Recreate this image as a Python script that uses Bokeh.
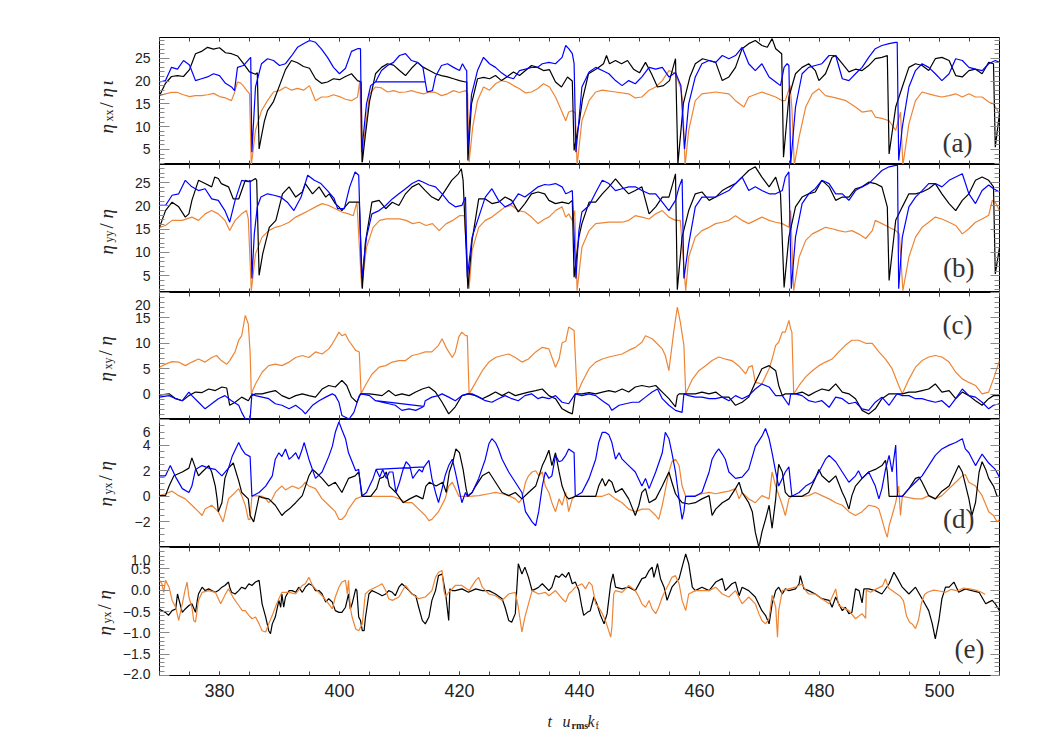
import math
from bokeh.plotting import figure
from bokeh.layouts import column, row
from bokeh.models import (Range1d, LinearAxis, SingleIntervalTicker,
                          CustomJSTickFormatter, Label)
from bokeh.embed import file_html
from bokeh.resources import INLINE

# ---------------- data: flat (t, value) pairs ----------------
a_black = [370,16.8, 371,19.5, 372,21.0, 373,21.2, 374,21.0, 375,22.5, 376,26.0, 377,26.5, 378,27.4, 379,27.0,
    380,27.3, 381,26.2, 382,26.0, 383,25.5, 384,23.8, 385,22.0, 386,21.5, 386.3,21.8, 386.6,5.1, 387,8.0,
    387.5,11.3, 388,13.5, 389,15.5, 390,19.0, 391,22.5, 392,24.5, 393,24.0, 394,23.2, 395,22.8, 396,20.5,
    397,19.5, 398,19.8, 399,20.5, 400,20.3, 401,21.0, 402,21.6, 403,20.1, 403.6,19.8, 403.8,2.2, 404.3,8.0,
    405,15.5, 406,21.6, 407,23.0, 408,23.8, 409,23.5, 410,22.3, 411,21.2, 412,22.8, 413,24.1, 414,23.0,
    415,22.3, 416,21.6, 417,21.2, 418,20.9, 419,20.5, 420,20.1, 421,19.8, 421.2,19.8, 421.4,2.6, 422,15.0,
    423,20.5, 424,20.8, 425,20.5, 426,21.2, 427,20.1, 428,21.0, 429,22.0, 430,21.2, 431,22.3, 432,23.4,
    433,23.0, 434,22.3, 435,22.5, 436,19.8, 437,18.7, 438,20.9, 438.8,20.0, 439.1,4.8, 440,11.3, 440.5,16.0,
    441.5,21.6, 443,22.8, 444,23.8, 444.5,25.6, 445,23.8, 446,24.5, 447,23.8, 448,24.5, 449,22.6, 450,21.8,
    451,24.1, 452,21.6, 453,18.7, 454,19.0, 455,20.1, 456,24.9, 456.4,1.8, 457.3,15.0, 458.4,20.9, 459.3,23.8,
    460.5,24.9, 461.6,24.5, 462.7,24.1, 463.8,20.1, 464.9,20.9, 466,23.0, 467.1,27.1, 468.2,28.2, 469.3,28.9,
    470.4,27.8, 471.3,27.4, 472.1,29.3, 472.7,27.1, 473.7,26.0, 474,3.3, 474.9,16.5, 476,21.6, 477.1,23.0,
    478.2,23.8, 479.3,22.3, 479.9,20.1, 481,21.6, 482.1,25.2, 482.7,25.6, 483.8,23.8, 484.9,22.0, 486,22.6,
    487.1,22.3, 488.2,23.4, 489.3,24.9, 490.4,25.2, 491.3,25.6, 491.6,4.0, 492.7,14.3, 493.8,18.7, 494.9,23.0,
    496,23.8, 497.1,23.4, 498.2,22.3, 499.3,24.9, 500.4,25.2, 501.6,24.5, 502.7,21.2, 503.8,20.9, 504.9,22.3,
    506,22.6, 507.1,21.6, 508.2,24.1, 509,23.8, 509.3,5.5, 510,13.0]

a_blue = [370,19.8, 371,20.1, 372,23.0, 373,22.6, 374,24.5, 375,23.5, 376,20.1, 377,20.5, 378,20.9, 379,21.6,
    380,21.2, 381,19.5, 382,18.7, 382.5,17.9, 383,23.0, 384,23.4, 385,24.9, 385.2,25.2, 385.4,4.4, 386,18.7,
    387,23.8, 388,24.9, 389,24.5, 390,23.4, 391,23.8, 392,25.5, 393,27.4, 394,28.2, 395,28.9, 396,28.5,
    397,27.0, 398,25.2, 399,23.0, 400,21.6, 401,22.8, 402,26.5, 403,27.1, 403.5,27.1, 403.7,4.4, 404.5,15.0,
    405.2,19.0, 406,19.8, 414.3,19.8, 406,19.8, 407,22.3, 408,23.4, 409,24.1, 410,25.6, 411,26.0, 412,24.5,
    413,24.1, 413.9,23.0, 414.3,19.8, 414.6,17.6, 415.5,17.9, 416,21.0, 417,23.4, 418,23.8, 419,23.0,
    420,22.3, 420.5,23.8, 421,22.6, 421.2,22.3, 421.35,4.8, 422,17.0, 423,22.3, 424,25.2, 424.5,24.5,
    425,23.8, 426,23.0, 427,21.8, 428,20.9, 429,20.5, 430,22.3, 431,22.6, 432,23.0, 433,23.0, 433.8,23.8,
    434.9,24.1, 436,23.8, 437.1,25.2, 437.7,27.8, 438.2,27.1, 438.8,26.0, 439.1,23.8, 439.4,4.4, 439.9,11.3,
    440.4,18.7, 441.6,22.0, 442.7,23.0, 443.8,22.3, 444.9,21.6, 446,20.1, 447.1,19.0, 448.2,20.1, 449.3,19.4,
    450.4,20.9, 451.6,23.0, 452.7,22.6, 453.8,23.0, 454.9,20.9, 456,21.9, 456.9,19.0, 457.5,5.1, 458.2,15.0,
    459.3,20.9, 460.4,23.8, 461.6,24.5, 462.7,24.1, 463.8,25.6, 464.9,24.9, 466,25.6, 467.1,27.4, 468.2,23.8,
    469.3,22.3, 470.4,23.8, 471.6,20.9, 472.7,19.8, 473.5,19.0, 474.1,23.0, 474.6,23.8, 474.9,23.4, 475.2,1.8,
    476,14.3, 477.1,21.6, 478.2,23.0, 479.3,23.4, 480.4,23.8, 481.6,25.6, 482.7,25.6, 483.8,20.5, 484.9,20.1,
    486,21.6, 487.1,23.0, 488.2,25.2, 489.3,27.1, 490.4,27.8, 491.6,28.2, 492.7,28.5, 492.95,28.5, 493.2,2.6,
    493.8,9.9, 494.9,18.7, 496,22.3, 497.1,23.8, 498.2,23.0, 499.3,21.6, 500.4,20.1, 501.6,21.6, 502.7,24.9,
    503.8,24.5, 504.9,23.0, 506,22.6, 507.1,22.3, 508.2,23.8, 509.3,24.5, 510,24.1]

a_orange = [370,16.8, 371,17.2, 372,17.5, 373,17.5, 374,17.0, 375,16.6, 376,16.8, 377,16.8, 378,17.0, 379,17.3,
    380,16.6, 381,16.3, 382,15.7, 382.5,17.5, 383,19.8, 383.5,19.6, 384,18.9, 384.5,18.0, 385,17.2, 385.3,1.5,
    386,9.2, 387,13.5, 388,15.7, 389,17.6, 390,17.9, 391,18.7, 392,18.0, 393,18.4, 394,18.0, 395,19.0,
    396,15.7, 397,16.5, 398,16.5, 399,17.0, 400,16.6, 401,16.0, 402,15.7, 403,16.5, 403.4,20.1, 403.7,2.2,
    404.2,8.4, 405,17.2, 406,18.7, 407,18.5, 408,17.6, 409,17.9, 410,17.5, 411,17.6, 412,17.9, 413,17.5,
    414,17.2, 415,17.6, 416,17.5, 417,16.8, 418,17.2, 419,17.9, 420,17.5, 421,17.9, 421.35,17.2, 421.6,2.2,
    422.2,9.9, 423,15.7, 424,18.7, 425,18.0, 426,19.4, 427,20.1, 428,19.8, 429,19.0, 430,18.3, 431,17.4,
    432,17.6, 433,18.3, 434,19.4, 435,18.7, 436,16.5, 437,13.5, 437.7,11.3, 438.2,13.2, 438.8,13.5, 439.3,13.0,
    439.6,1.5, 440.4,11.3, 441.6,15.7, 442.7,17.6, 443.8,18.0, 446,17.6, 448.2,17.2, 449.3,16.3, 450.4,16.5,
    451.6,18.0, 452.7,18.7, 453.8,20.1, 454.9,22.3, 456,21.6, 456.8,18.7, 457.2,15.7, 457.6,1.5, 458.2,9.2,
    459.3,15.7, 460.4,17.2, 462.7,17.6, 464.9,17.2, 466,15.7, 467.4,14.3, 468.2,16.5, 470.4,17.6, 472.7,16.5,
    473.8,15.7, 474.3,15.7, 475.1,19.0, 475.4,14.0, 475.8,1.5, 476.6,7.7, 477.7,14.3, 478.8,17.2, 479.9,18.3,
    481,16.8, 482.7,16.3, 484.4,15.7, 486,14.3, 487.1,13.2, 488.7,13.5, 489.3,12.1, 490.4,11.8, 491.6,11.3,
    492.7,9.2, 493.5,13.2, 493.9,1.5, 494.9,10.6, 496,15.7, 497.1,17.6, 498.2,17.2, 499.3,16.8, 500.4,16.5,
    501.6,16.8, 502.7,17.2, 503.8,16.5, 504.9,17.2, 506,16.5, 507.1,16.5, 508.2,15.4, 509,15.0, 510,12.8]

b_black = [370,15.4, 371,19.0, 372.1,20.8, 373.2,19.8, 374.3,17.6, 374.9,18.3, 375.4,21.2, 376.5,25.5, 377.6,24.8,
    378.7,24.1, 379.2,26.2, 379.8,25.9, 380.3,24.8, 381.5,24.1, 382.3,21.5, 383.2,21.5, 384.3,25.5, 385.1,25.2,
    386,25.9, 386.2,25.5, 386.6,5.1, 387.2,9.7, 388.3,15.4, 389.4,16.9, 390.5,22.6, 391.6,24.1, 392.7,21.9,
    393.8,23.0, 394.3,24.8, 395.5,22.6, 396.6,24.1, 397.7,21.9, 398.3,22.6, 399.3,20.5, 399.9,19.8, 400.4,19.0,
    401.6,20.8, 402.7,20.8, 403.3,20.8, 403.8,2.2, 404.3,12.0, 405.4,20.8, 406.6,21.2, 407.7,19.4, 408.8,20.8,
    409.9,20.1, 411,22.6, 412.1,24.1, 413.2,24.8, 414.3,23.3, 415.4,21.9, 416.5,21.2, 417.6,23.3, 418.7,25.5,
    419.8,26.9, 420.3,28.0, 420.6,25.5, 421.4,2.2, 422.1,12.6, 423.2,21.5, 424.3,21.5, 425.4,20.5, 426.5,20.8,
    427.6,21.9, 428.7,21.2, 429.8,18.7, 430.9,20.5, 432,22.6, 433.1,23.0, 434.2,22.6, 434.9,21.2, 436,20.5,
    437.1,20.8, 438.2,20.5, 438.8,21.2, 439.1,4.7, 439.9,13.3, 440.4,16.2, 441.6,20.8, 442.7,20.8, 443.8,22.6,
    444.9,24.1, 446,25.8, 447.1,24.1, 448.2,22.6, 449.3,23.3, 450.4,24.1, 451.6,18.3, 452.7,19.8, 453.8,21.9,
    454.9,21.9, 455.7,25.5, 456,26.9, 456.3,2.0, 457.1,13.3, 458.2,19.0, 459.3,22.6, 460.4,23.0, 461.6,21.2,
    462.7,21.9, 463.8,23.3, 464.9,24.1, 466,24.8, 467.1,26.2, 468.2,27.6, 469.3,28.4, 470.4,26.2, 471.6,24.1,
    472.7,26.2, 473.5,22.6, 474.1,2.5, 474.9,13.3, 476,19.8, 477.1,21.9, 478.2,22.6, 479.3,23.0, 480.4,25.5,
    481.6,24.1, 482.7,21.2, 483.8,21.9, 484.9,21.9, 486,23.7, 487.1,24.1, 488.2,25.1, 489.3,24.8, 490.4,24.1,
    491.3,19.8, 491.6,4.0, 492.7,16.9, 493.8,19.8, 494.9,22.6, 496,22.6, 497.1,23.0, 498.2,23.7, 499.3,24.8,
    500.4,22.6, 501.6,20.5, 502.7,19.0, 503.8,21.2, 504.9,22.6, 506,25.5, 507.1,26.2, 508.2,25.5, 509,24.1,
    509.3,5.4, 510,11.1]

b_blue = [370,20.1, 371,20.1, 372.1,22.3, 373.2,22.6, 374.3,25.5, 375.4,24.1, 376.5,23.3, 377.6,23.7, 378.7,21.5,
    379.8,21.2, 380.9,19.0, 381.7,16.5, 382.6,21.2, 383.7,25.5, 384.8,25.2, 385.1,25.5, 385.4,4.4, 385.8,14.0,
    386.3,19.8, 386.9,21.9, 388,22.6, 389.1,22.3, 390.2,21.9, 391.3,20.8, 392.4,19.0, 393.6,21.9, 394.7,26.6,
    395.8,25.5, 396.9,24.8, 398,23.3, 399.1,21.6, 399.7,19.4, 400.8,19.4, 401.7,24.1, 402.6,27.3, 403.2,26.6,
    403.7,4.4, 404.5,13.3, 405.4,18.3, 406.6,19.0, 407.7,20.1, 408.8,21.5, 409.9,22.6, 411,23.7, 412.1,24.8,
    413.2,25.5, 413.8,25.2, 414.9,24.5, 416,24.1, 417.1,22.6, 418.2,20.8, 419.3,19.8, 420.4,20.1, 421,21.9,
    421.3,4.7, 422.1,13.3, 423.2,17.6, 424.3,21.9, 425.4,23.7, 426.5,21.2, 427.6,19.8, 428.7,20.5, 429.8,22.6,
    430.9,21.9, 432,23.0, 433.1,24.1, 434.2,24.6, 434.9,24.5, 436,24.8, 437.1,24.1, 437.7,22.6, 438.2,22.9,
    438.8,23.3, 439.4,4.4, 439.9,14.7, 440.4,18.7, 441.6,20.1, 442.7,22.9, 443.8,25.5, 444.9,24.8, 446,23.3,
    447.1,23.7, 448.2,24.1, 449.3,24.1, 450.4,23.3, 451.6,22.6, 452.7,22.6, 453.8,20.8, 454.9,19.0, 456,21.2,
    456.6,24.1, 457.1,25.8, 457.4,4.4, 458.2,11.8, 459.3,19.8, 460.4,21.9, 462.7,21.9, 463.8,22.6, 464.9,23.3,
    466,24.8, 467.1,26.2, 468.2,23.3, 469.3,24.1, 470.4,23.3, 471.6,22.6, 472.7,22.6, 473.8,23.3, 474.3,26.2,
    474.9,27.3, 475.3,2.2, 476,13.3, 477.1,20.5, 478.2,22.6, 479.3,23.7, 480.4,25.5, 481.6,24.8, 482.7,22.6,
    483.8,22.6, 484.9,21.2, 486,23.3, 487.1,24.1, 488.2,24.8, 489.3,26.2, 490.4,27.6, 491.6,28.4, 492.7,28.7,
    493.0,28.7, 493.2,2.2, 493.8,13.3, 494.9,19.8, 496,21.9, 497.1,23.3, 498.2,24.8, 499.3,24.8, 500.4,24.1,
    501.6,25.5, 502.7,26.2, 503.8,26.9, 504.9,22.6, 506,20.5, 507.1,23.3, 508.2,24.5, 509,23.7, 510,23.0]

b_orange = [370,15.4, 371,15.8, 372.1,16.9, 373.8,16.9, 375.4,17.6, 376.5,16.9, 377.6,18.3, 378.7,19.0, 379.8,18.3,
    380.9,16.9, 381.7,14.7, 382.6,16.9, 383.7,18.3, 384.5,19.0, 384.8,17.2, 385.3,1.8, 386,9.7, 387.1,13.3,
    388.2,14.7, 389.3,15.4, 390.4,15.8, 391.6,16.5, 392.7,17.6, 393.8,18.3, 394.9,19.0, 396,19.8, 397.1,20.5,
    398.2,20.1, 399.3,19.4, 400.4,18.7, 401.5,18.3, 402.3,17.9, 402.9,20.8, 403.7,2.5, 404.5,11.1, 405.6,15.4,
    406.7,16.9, 407.8,17.2, 410,17.2, 411.1,16.9, 412.2,16.2, 413.3,16.5, 414.4,15.8, 415.5,16.2, 416.6,14.7,
    417.8,16.2, 418.9,16.9, 420,17.9, 420.8,17.9, 421.6,2.2, 422.1,10.4, 423.2,15.4, 424.3,16.9, 425.4,17.6,
    426.5,18.7, 427.6,19.8, 428.7,20.1, 429.8,19.0, 430.9,18.7, 432,17.6, 433.1,16.2, 434.2,17.2, 434.9,17.6,
    436,19.0, 437.1,19.8, 437.7,17.6, 438.2,18.3, 438.8,16.9, 439.2,19.0, 439.6,1.8, 440.4,11.1, 441.6,14.7,
    442.7,16.2, 444.9,16.5, 447.1,16.5, 448.2,16.9, 449.3,17.9, 450.4,17.6, 451.6,17.2, 452.7,18.3, 453.8,19.0,
    454.9,17.6, 456,16.9, 456.8,16.9, 457.7,1.8, 458.2,9.0, 459.3,13.3, 460.4,14.7, 461.6,15.4, 462.7,16.2,
    463.8,16.5, 464.9,16.9, 466,17.9, 467.1,16.9, 468.2,16.2, 469.3,16.9, 470.4,17.6, 471.6,16.9, 472.7,16.5,
    473.8,16.2, 474.9,15.4, 475.2,19.0, 475.7,1.8, 476.6,9.0, 477.7,12.6, 478.8,14.0, 479.9,14.7, 481,15.4,
    482.1,15.1, 483.2,14.7, 484.3,14.4, 485.4,14.7, 486.5,14.0, 487.7,13.0, 488.8,14.7, 489.3,16.9, 490.4,16.2,
    491.6,15.4, 492.7,14.7, 493.3,14.0, 493.9,1.8, 494.9,9.0, 496,13.3, 497.1,15.4, 498.2,16.5, 499.3,17.6,
    500.4,17.2, 501.6,16.5, 502.7,15.8, 503.8,14.0, 504.9,15.1, 506,16.5, 507.1,17.2, 508.2,18.0, 508.8,21.2,
    509.3,20.8, 510,19.0]

c_orange = [370,5.3, 371,5.9, 372.1,6.4, 373.2,6.3, 374.3,5.6, 375.4,6.3, 376.5,6.9, 377.6,6.3, 378.7,7.2, 379.5,7.6,
    380.3,6.6, 381.2,5.9, 381.7,6.6, 382.6,8.3, 383.2,10.6, 383.7,11.5, 384.3,15.5, 384.8,13.8, 385.1,8.3,
    385.3,0.05, 386,2.0, 387.1,4.3, 388.2,5.6, 389.3,5.9, 390.4,5.6, 391.6,6.3, 392.7,7.2, 393.8,7.6, 394.9,7.2,
    396,8.3, 397.1,7.9, 398.2,8.9, 398.8,9.9, 399.3,10.9, 399.9,12.2, 400.4,11.5, 401,11.8, 401.5,10.6,
    402.7,8.6, 403.3,8.3, 403.6,0.05, 404.3,1.7, 405.4,3.9, 406.6,5.3, 407.7,5.6, 408.8,6.3, 409.9,6.6, 411,6.6,
    412.1,7.6, 413.2,7.9, 414.3,8.3, 415.4,8.3, 416.5,9.6, 417.1,10.9, 417.9,8.9, 418.8,7.2, 419.3,8.3,
    419.9,11.3, 420.4,12.2, 421,11.5, 421.3,11.5, 421.6,0.05, 422.7,2.3, 423.8,4.6, 424.9,6.3, 426,7.2,
    427.1,7.6, 428.2,7.9, 429.3,7.2, 430.4,6.3, 431.5,6.9, 432.7,8.3, 433.8,9.2, 434.9,8.9, 436,5.3, 436.6,6.9,
    437.1,10.1, 437.7,10.4, 438.2,13.2, 439.1,12.5, 439.4,5.0, 439.6,0.05, 440.4,2.3, 441.6,5.0, 442.7,6.3,
    443.8,6.9, 444.9,7.3, 446,7.6, 447.1,7.9, 448.2,8.6, 449.3,9.2, 450.4,10.2, 451,11.5, 452.1,10.9,
    452.7,10.2, 453.8,8.9, 454.3,7.6, 454.9,4.6, 455.7,12.2, 456.3,17.1, 456.8,14.2, 457.4,9.6, 457.7,0.05,
    458.8,2.9, 459.9,4.6, 461,5.6, 462.1,6.6, 463.2,7.3, 464.3,6.9, 465.4,6.6, 466.5,5.6, 467.7,4.0, 468.2,5.3,
    468.8,5.6, 469.3,2.3, 470.4,2.0, 471.6,5.0, 472.1,6.9, 472.7,9.6, 473.2,10.2, 473.8,12.2, 474.3,12.2,
    474.9,14.5, 475.2,12.8, 475.4,12.2, 475.7,0.05, 476.6,1.7, 477.7,3.4, 478.8,4.6, 479.9,5.6, 481,6.3,
    482.1,6.9, 483.2,8.3, 484.3,9.6, 485.4,10.6, 486.5,10.6, 487.7,10.0, 488.8,10.0, 489.9,8.3, 491,6.9,
    492.1,5.0, 493.2,1.7, 493.8,0.05, 494.9,2.9, 496,5.3, 497.1,6.6, 498.2,7.3, 499.3,7.6, 500.4,7.3, 501.6,6.3,
    502.7,4.3, 503.8,3.0, 504.9,2.3, 506,1.7, 507.1,0.05, 508.2,0.4, 509,3.0, 510,6.6]

c_black = [370,-0.2, 371.6,0.05, 372.7,-0.9, 373.8,-1.3, 374.9,-0.3, 376,0.4, 377.1,0.3, 378.2,1.0, 379.3,0.7,
    380.4,1.4, 381.2,1.2, 381.7,-2.2, 382.6,-1.6, 383.7,-0.6, 384.8,-1.3, 385.3,-0.3, 386,0.05, 387.1,0.05,
    388.2,0.4, 389.3,0.7, 390.4,-0.3, 391.6,-0.9, 392.7,-0.3, 393.8,0.05, 394.9,-0.3, 396,-0.6, 397.1,1.0,
    398.2,1.7, 399.3,1.4, 400.4,2.7, 401.2,1.7, 402,-0.6, 402.9,-1.6, 403.5,0.05, 405,0.05, 406,-0.1, 407.1,-0.3,
    408.2,0.7, 409.3,-0.3, 410.4,0.05, 411.6,-0.3, 412.7,0.4, 413.8,1.0, 414.9,1.4, 416,0.4, 417.1,-1.6,
    418.2,-3.9, 419.3,-2.5, 420.4,-0.3, 421.5,0.05, 422.7,-0.3, 423.8,-0.9, 424.9,-0.3, 426,0.4, 427.1,-0.3,
    428.2,0.4, 429.3,-0.3, 430.4,0.05, 431.5,0.4, 432.7,0.7, 433.8,1.0, 434.9,-0.3, 436,-0.9, 437.1,-2.9,
    438.2,-3.6, 438.8,-3.9, 439.3,0.05, 440.4,0.05, 441.6,0.3, 442.7,0.05, 443.8,0.4, 444.9,0.7, 446,0.4,
    447.1,1.0, 448.2,0.4, 449.3,1.4, 450.4,1.7, 451.6,1.4, 452.7,1.7, 453.8,0.4, 454.9,-0.9, 456,-2.5,
    456.3,-0.3, 456.6,0.05, 458.2,0.05, 459.3,0.05, 460.4,0.4, 461.6,0.05, 462.7,0.4, 463.8,-0.6, 464.9,-0.6,
    466,-2.2, 467.1,-1.6, 468.2,-0.6, 469.3,2.3, 470.4,5.0, 471.6,5.6, 472.7,4.6, 473.2,1.7, 473.8,-0.3,
    474.3,0.05, 476,0.05, 477.1,0.4, 478.2,-0.3, 479.3,0.4, 480.4,1.0, 481.6,0.7, 482.7,2.0, 483.8,0.4,
    484.9,0.05, 486,-0.9, 487.1,-3.2, 488.2,-3.9, 489.3,-2.9, 490.4,-0.9, 491.6,0.05, 493.8,0.05, 494.9,0.4,
    496,0.4, 497.1,0.7, 498.2,1.0, 499.3,2.0, 500.4,0.4, 501.6,0.7, 502.7,-0.9, 503.8,0.4, 504.9,-0.3, 506,-1.3,
    507.1,-2.2, 508.2,-0.9, 509,-0.3, 510,-0.3]

c_blue = [370,-0.6, 371.6,-0.3, 372.7,-0.9, 373.8,-1.3, 374.9,0.4, 375.4,-0.3, 376.5,-1.6, 377.6,-2.9, 378.7,-1.9,
    379.8,-0.9, 380.9,-0.3, 382,-1.3, 383.2,-2.2, 383.7,-3.6, 384.3,-4.9, 385.1,-4.9, 385.4,0.05, 386,-0.3,
    387.1,-0.6, 388.2,-0.9, 389.3,-1.9, 390.4,-2.2, 391.6,-2.9, 392.7,-2.2, 393.8,-3.2, 394.3,-3.9, 395.5,-2.2,
    396.6,-1.3, 397.7,-0.6, 398.8,0.05, 399.3,-0.3, 399.9,-1.6, 400.4,-4.2, 401.6,-4.9, 402.4,-3.6, 403.3,-0.3,
    403.7,0.05, 405,-0.3, 406,-1.3, 414.06,-2.4, 406,-1.3, 407.1,-1.6, 408.2,-1.9, 409.3,-2.2, 410.4,-3.2,
    411.6,-2.9, 412.7,-3.2, 413.8,-2.6, 414.06,-2.4, 414.3,-1.3, 415.4,-0.6, 416.5,-0.3, 417.1,0.05, 418.2,-0.6,
    419.3,-1.3, 420.4,-0.3, 421.3,0.05, 422.1,0.05, 423.2,-0.6, 424.3,-1.3, 425.4,-1.6, 426.5,-0.9, 427.6,-0.3,
    428.7,-0.9, 429.8,-1.3, 430.9,-0.3, 432,0.05, 433.1,-0.9, 433.8,-0.6, 434.9,-0.9, 436,-0.3, 437.1,-1.6,
    438.2,-1.9, 439.1,-0.3, 439.3,0.05, 440.4,-0.3, 441.6,0.05, 442.7,-0.3, 443.8,-1.3, 444.9,-2.2, 445.4,-3.2,
    446.6,-2.2, 447.7,-1.9, 448.8,-1.6, 449.9,-1.6, 451,-0.6, 452.1,0.4, 453,1.0, 453.8,-0.9, 454.9,-2.2,
    456,-3.2, 457.1,-3.6, 457.4,0.05, 458.2,-0.3, 459.3,-0.6, 460.4,-0.6, 461.6,-0.9, 462.7,-0.9, 463.8,-0.6,
    464.9,-1.3, 466,-0.3, 467.1,-0.9, 468.2,-0.3, 469.3,1.0, 470.4,2.0, 471.6,1.4, 472.7,-0.3, 473.8,-0.3,
    474.9,-2.2, 475.2,0.05, 476,0.05, 477.1,-0.3, 478.2,-1.3, 479.3,-1.6, 480.4,-1.3, 481.6,-2.6, 482.7,-0.6,
    483.8,-0.9, 484.9,-1.9, 486,-1.6, 487.1,-2.9, 488.2,-3.2, 489.3,-1.6, 490.4,-0.6, 491.6,-2.2, 492.7,-0.3,
    493,0.05, 493.8,-0.3, 494.9,-0.3, 496,-0.9, 497.1,-0.9, 498.2,-1.3, 499.3,-1.6, 500.4,-1.3, 501.6,-2.6,
    502.7,-0.9, 503.8,1.0, 504.9,-0.3, 506,-0.6, 507.1,-1.6, 508.2,-2.9, 509,-2.2, 510,-1.9]

d_blue = [370,1.6, 371,1.6, 371.8,2.4, 372.7,1.5, 373.8,0.6, 374.9,0.3, 375.4,0.8, 376,2.1, 377.1,2.4, 378.2,2.2,
    379.3,2.1, 380.4,1.6, 381.5,2.2, 382.1,3.1, 383.2,4.2, 383.7,3.7, 384.3,3.3, 385.1,3.1, 385.4,0.0, 386.6,0.3,
    387.7,0.8, 388.8,1.6, 389.3,2.9, 389.9,3.4, 390.4,3.1, 391,3.7, 391.6,2.9, 392.1,3.1, 392.7,3.4, 393.2,2.9,
    393.8,3.7, 394.1,4.2, 394.9,2.9, 396,1.4, 397.1,1.9, 398.2,3.1, 398.8,3.9, 399.3,5.0, 399.9,5.8, 400.4,5.2,
    401,4.5, 401.5,3.4, 402.1,2.7, 402.7,2.0, 403.2,2.1, 403.7,0.0, 404.5,0.3, 405,0.8, 405.6,1.4, 406.1,2.1,
    414.1,2.3, 406.1,2.1, 406.7,1.5, 407.2,2.1, 407.8,1.4, 408.3,1.9, 408.9,1.9, 409.4,0.3, 410,1.1, 410.6,2.1,
    411.1,2.7, 411.7,2.4, 412.2,1.4, 412.8,1.8, 413.3,2.1, 413.8,1.9, 414.1,2.3, 414.9,2.8, 415.4,1.4, 416,0.3,
    416.5,-0.5, 417.1,0.6, 417.6,1.6, 418.2,2.4, 418.8,2.9, 419.3,1.9, 419.9,0.6, 420.4,-0.5, 421,0.3, 421.3,0.0,
    422.1,0.3, 423.2,1.4, 424.3,2.9, 424.9,4.1, 425.4,4.5, 426,4.2, 426.5,3.7, 427.1,2.9, 428.2,1.9, 429.3,1.1,
    430.4,0.3, 431,-1.2, 432.1,-2.0, 432.7,-2.3, 433.2,-1.2, 433.8,0.8, 434.3,1.9, 434.9,1.4, 435.4,1.6, 436,3.2,
    436.6,2.7, 437.1,2.8, 437.7,3.2, 438.2,3.7, 439.1,3.4, 439.3,0.0, 440.4,0.3, 441.6,1.4, 442.7,2.9, 443.2,4.2,
    443.8,5.0, 444.3,5.0, 444.9,4.8, 445.4,4.2, 446,2.9, 446.6,3.4, 447.1,2.9, 448.2,2.4, 449.3,1.9, 450.4,0.8,
    451,1.4, 451.6,0.6, 452.7,1.9, 453.8,3.4, 454.3,5.0, 454.9,4.5, 455.4,3.4, 456,1.9, 456.6,-0.2, 457.1,-1.8,
    457.4,-1.2, 457.7,0.0, 459.3,0.0, 460.4,0.3, 461.6,1.9, 462.1,2.9, 462.7,3.4, 463.2,3.7, 463.8,3.3, 464.3,2.9,
    464.9,1.9, 466,1.4, 467.1,1.5, 468.2,2.1, 469.3,3.9, 470.4,4.7, 471,5.3, 471.6,4.5, 472.1,3.4, 472.7,1.9,
    473.2,0.8, 473.8,1.4, 474.3,1.9, 474.9,2.3, 475.4,0.0, 476.6,0.3, 477.7,0.8, 478.8,1.1, 479.9,1.9, 481,2.9,
    481.6,3.2, 482.7,2.7, 483.8,1.9, 484.9,1.1, 486,1.6, 486.5,2.0, 487.1,1.4, 488.2,1.9, 489.3,0.8, 489.9,-0.2,
    490.4,0.6, 491,2.1, 491.6,3.2, 492.1,1.9, 492.7,4.0, 493,0.0, 493.8,0.0, 494.9,0.6, 496,1.1, 497.1,1.6,
    498.2,2.4, 499.3,3.2, 500.4,3.7, 501.6,4.0, 502.7,4.2, 503.8,4.5, 504.3,3.7, 504.9,3.4, 506,2.4, 507.1,3.3,
    508.2,2.6, 509.3,2.1, 510,1.5]

d_black = [370,0.05, 371,0.05, 371.6,0.8, 372.4,1.6, 373.8,1.9, 374.9,2.2, 375.4,3.0, 376,2.2, 376.5,1.6, 377.1,1.9,
    378.2,2.4, 378.7,1.9, 379.3,0.8, 379.6,-0.2, 379.8,-1.2, 380.4,-0.5, 380.9,1.4, 381.5,2.2, 382.3,2.6,
    383.2,1.2, 383.7,0.3, 384.8,-0.2, 385.1,-1.5, 385.7,-2.0, 386.6,0.0, 387.1,-0.1, 388.2,-0.2, 389.3,-0.7,
    390.4,-1.5, 391,-1.2, 391.6,-1.0, 392.7,-0.5, 393.8,0.05, 394.9,1.6, 395.5,2.1, 396,1.9, 397.1,1.4,
    398.2,0.8, 399.3,1.1, 400.4,0.3, 401.5,1.4, 402.6,1.6, 403.2,1.9, 403.8,0.0, 405.2,0.0, 406.2,0.6,
    406.7,1.4, 407.3,1.5, 407.8,1.9, 408.3,0.8, 409.4,0.3, 410.6,-0.5, 411.7,-0.2, 412.8,0.05, 413.9,-0.2,
    414.4,0.8, 415,1.1, 416.1,0.8, 417.2,1.1, 417.8,0.3, 418.3,1.9, 418.9,2.7, 419.4,3.7, 420,3.4, 420.6,2.1,
    421.1,0.6, 421.4,0.0, 422.1,0.3, 422.7,0.8, 423.8,1.6, 424.9,1.9, 426,1.1, 427.1,0.3, 428.2,0.05, 429.3,0.3,
    430.4,-0.2, 431.5,0.3, 432.7,0.8, 433.8,2.4, 434.3,2.9, 434.9,3.6, 435.4,2.4, 436,3.4, 436.6,1.9, 437.1,0.8,
    437.7,0.05, 438.2,-0.2, 438.8,-0.1, 439.3,0.0, 442.7,0.0, 443.2,0.8, 443.8,1.4, 444.3,0.8, 444.9,1.3,
    445.4,1.1, 446,0.3, 447.1,0.6, 448.2,-0.2, 449.3,-1.5, 449.9,-0.7, 450.4,0.3, 451,0.6, 451.6,-0.5,
    452.7,-0.2, 453.8,0.8, 454.9,1.9, 455.4,1.1, 456,0.2, 456.6,-0.2, 457.1,-0.5, 458.2,-0.6, 459.3,-0.5,
    460.4,-0.2, 461.6,0.05, 462.1,-1.5, 462.7,-1.0, 463.8,-0.5, 464.9,-0.2, 466,0.6, 466.6,1.1, 467.1,0.3,
    468.2,-0.5, 468.8,-1.2, 469.3,-2.8, 469.9,-4.0, 470.4,-2.8, 471,-1.8, 471.6,-0.7, 472.1,-2.5, 472.7,-0.2,
    473,1.6, 473.2,2.5, 473.8,1.9, 474.3,0.3, 474.9,0.0, 477.1,0.0, 478.2,0.3, 479.3,1.4, 479.9,2.1, 480.4,1.6,
    481.6,1.1, 482.7,1.6, 483.8,0.3, 484.3,-0.2, 484.9,-1.0, 485.4,0.05, 486,0.8, 487.1,1.4, 488.2,1.9,
    489.3,2.1, 490.4,2.4, 491,2.8, 491.3,1.9, 491.6,0.0, 493.8,0.0, 494.9,0.6, 496,1.4, 496.6,1.5, 497.1,1.1,
    498.2,0.05, 499.3,-0.2, 500.4,0.4, 501.6,0.8, 502.7,1.9, 503.2,2.4, 503.8,1.9, 504.9,-0.2, 505.4,-1.5,
    506,-0.5, 506.6,1.9, 507.1,2.7, 507.7,2.1, 508.2,1.4, 509,0.8, 509.6,0.0, 510,0.0]

d_orange = [370,0.05, 371,0.2, 372.1,0.4, 373.2,0.05, 374.3,-0.2, 375.4,-0.7, 376.5,-1.2, 377.1,-1.5, 377.6,-1.0,
    378.7,-0.7, 379.8,-1.2, 380.6,-2.0, 381.5,-0.2, 382.6,0.3, 383.2,0.6, 383.7,0.05, 384.3,-0.7, 384.8,-1.8,
    385.1,-1.8, 385.4,0.0, 386,0.05, 387.1,0.0, 387.7,-0.2, 388.2,-0.5, 388.8,-0.2, 389.3,0.3, 389.9,0.6,
    390.4,0.8, 391,0.5, 392.1,0.8, 393.2,0.6, 393.8,0.8, 394.3,1.1, 394.9,0.8, 396,0.6, 397.1,-0.2, 398.2,-0.7,
    399.3,-1.2, 399.9,-1.8, 400.4,-1.8, 401,-1.5, 401.5,-1.0, 402.7,-0.2, 403.8,0.0, 408.8,0.0, 410,-0.2,
    411,-0.5, 412.1,-0.5, 413.2,-1.0, 414.3,-1.5, 414.9,-1.9, 415.4,-1.8, 416.5,-1.2, 417.6,-0.2, 418.2,0.8,
    418.8,1.1, 419.3,0.6, 419.9,0.0, 421.6,0.0, 423.2,0.05, 424.9,0.2, 426,0.3, 427.1,0.2, 428.2,0.05,
    429.3,-0.2, 429.9,-0.5, 430.4,-0.2, 431,1.1, 431.5,1.6, 432.1,1.9, 432.7,2.0, 433.2,1.6, 433.8,1.9,
    434.3,0.8, 434.9,0.3, 435.4,-0.5, 436,-1.2, 436.6,-0.2, 437.1,-0.7, 437.7,0.3, 438.2,-1.2, 438.8,-0.2,
    439.3,0.0, 443.8,0.0, 444.9,0.2, 446,-0.2, 447.1,-0.5, 448.2,-1.0, 449.3,-1.2, 450.4,-1.0, 451.6,-1.0,
    452.7,-1.5, 453.2,-1.8, 453.8,-0.7, 454.9,1.9, 455.4,2.7, 456,2.9, 456.6,2.4, 457.1,0.8, 457.7,0.0,
    459.3,0.05, 460.4,0.2, 461.6,0.3, 462.7,0.2, 463.8,0.3, 464.9,0.4, 466,0.6, 466.6,-0.2, 467.1,0.3,
    468.2,-0.2, 469.3,-0.5, 470.4,0.05, 471.6,-0.2, 472.1,1.9, 472.7,0.8, 473.8,-0.7, 474.3,-1.5, 474.9,-0.2,
    475.4,0.0, 477.1,0.0, 478.2,0.05, 479.3,0.3, 480.4,0.05, 481.6,-0.2, 482.7,-0.5, 483.8,-0.7, 484.9,-1.2,
    486,-1.5, 487.1,-1.2, 488.2,-0.7, 489.3,-0.8, 489.9,-1.0, 490.4,-1.8, 491,-2.8, 491.3,-3.2, 491.6,-2.3,
    492.1,-1.5, 492.7,-0.5, 493.2,0.8, 493.5,-1.5, 493.8,0.0, 494.9,-0.1, 496,-0.2, 497.1,-0.2, 498.2,0.05,
    499.3,-0.2, 500.4,0.05, 501.6,0.6, 502.7,1.1, 503.8,1.6, 504.3,1.7, 504.9,1.1, 506,0.8, 507.1,0.05,
    508.2,-1.2, 509,-1.5, 509.6,-2.0, 510,-1.8]

e_black = [370,-0.44, 370.4,-0.48, 371,-0.52, 371.5,-0.59, 372.1,-0.48, 372.7,-0.44, 373,-0.09, 373.2,-0.20,
    373.8,-0.52, 374.3,-0.44, 374.9,-0.36, 375.4,-0.32, 376,-0.52, 376.3,-0.24, 376.5,-0.09, 377.1,0.07,
    377.6,-0.01, 378.2,0.03, 378.7,-0.01, 379.3,-0.05, 379.8,-0.01, 380.4,0.07, 380.9,0.11, 381.5,0.19,
    381.7,0.07, 382,-0.05, 382.6,-0.09, 383.2,-0.01, 383.7,0.07, 384.3,0.03, 384.9,0.15, 385.4,0.11, 386,0.19,
    386.6,0.23, 387.1,-0.32, 387.7,-0.63, 388.2,-0.95, 388.5,-1.02, 388.8,-0.79, 389.3,-0.63, 389.9,-0.24,
    390.2,-0.40, 390.4,-0.09, 390.7,-0.40, 391,-0.16, 391.6,-0.01, 392.1,-0.01, 392.7,-0.05, 393.2,0.07,
    393.8,-0.05, 394.3,0.07, 394.9,0.15, 395.5,0.11, 396,-0.01, 396.6,-0.01, 397.1,-0.09, 397.7,-0.28,
    398.2,-0.20, 398.8,-0.28, 399.3,-0.48, 399.9,-0.52, 400.4,-0.52, 401,-0.40, 401.5,-0.09, 401.8,-0.44,
    402.1,-0.32, 402.7,0.03, 402.9,-0.01, 403.2,-0.63, 403.5,-0.71, 403.8,-0.95, 404.1,-0.95, 404.3,-0.67,
    404.9,-0.09, 405.4,-0.01, 406,-0.05, 406.6,-0.09, 407.1,-0.13, 407.7,-0.09, 408.2,-0.01, 408.8,-0.05,
    409.3,-0.13, 409.9,0.07, 410.4,0.15, 411,0.07, 411.6,-0.01, 412.1,-0.09, 412.7,-0.13, 413.2,-0.40,
    413.8,-0.71, 414.3,-0.79, 414.9,-0.63, 415.4,-0.24, 416,-0.01, 416.5,0.34, 417.1,0.38, 417.7,-0.09,
    418.2,-0.71, 418.4,0.03, 418.8,-0.01, 419.3,-0.01, 420.4,0.03, 421.5,-0.05, 422.7,0.03, 423.8,-0.01,
    424.9,-0.01, 426,-0.09, 427.1,-0.20, 427.6,-0.40, 428.2,-0.71, 428.7,-0.75, 429.3,-0.55, 429.8,0.62,
    430.4,0.38, 430.9,0.54, 431.5,0.30, 432.1,-0.01, 432.7,0.03, 433.2,0.07, 433.8,0.15, 434.9,-0.01,
    435.4,0.07, 436,0.34, 436.6,0.30, 437.1,0.38, 437.7,0.30, 438.2,0.42, 438.8,0.15, 439.3,0.19, 439.9,-0.01,
    440.4,-0.40, 440.7,-0.59, 441.3,-0.52, 441.8,-0.48, 442.4,-0.16, 442.9,-0.32, 443.5,-0.59, 444.1,-0.79,
    444.6,-0.55, 445.2,0.15, 445.6,0.38, 446,0.07, 447.1,0.03, 448.2,0.07, 449.3,-0.01, 450.4,0.27, 451,0.30,
    451.6,0.46, 452.1,0.54, 452.4,0.30, 453,0.62, 453.5,0.27, 454.1,0.07, 454.6,-0.24, 455.4,0.07, 456.6,0.27,
    457.1,0.54, 457.7,0.85, 458.2,0.62, 458.8,0.07, 459.3,-0.01, 460.4,0.07, 461.6,-0.01, 462.7,0.19,
    463.8,0.27, 464.3,-0.01, 465.4,0.15, 466,0.19, 466.6,-0.13, 467.1,0.07, 468.2,-0.01, 469.3,-0.16,
    470.4,-0.48, 471,-0.59, 471.6,-0.79, 472.1,-0.32, 472.7,-0.01, 473.2,0.07, 473.8,-0.09, 474.3,0.03,
    474.9,-0.01, 476,0.03, 476.6,0.15, 476.8,0.34, 477.4,0.03, 478.2,-0.01, 479.3,-0.09, 480.4,-0.20,
    481.6,-0.24, 482.1,-0.40, 482.7,-0.16, 483.2,-0.32, 483.8,-0.48, 484.3,-0.40, 484.9,-0.55, 485.4,-0.52,
    486,0.03, 486.6,-0.01, 487.1,-0.30, 487.4,0.03, 488.2,0.03, 489.3,-0.01, 490.4,-0.09, 491.6,0.15,
    492.4,0.42, 492.9,0.30, 493.8,0.07, 494.9,-0.09, 496,0.07, 497.1,-0.20, 498.2,-0.48, 498.8,-0.79,
    499.3,-1.14, 499.9,-0.71, 500.4,-0.20, 501,0.07, 501.6,0.07, 502.4,0.19, 503.2,-0.05, 504.3,0.03,
    505.4,-0.01, 506.6,-0.05, 507.7,-0.32, 508.2,-0.28, 508.8,-0.24, 509.3,-0.32, 510,-0.48]

e_orange = [370,0.23, 370.4,0.15, 370.7,-0.05, 371,0.23, 371.6,0.07, 372.1,-0.24, 372.7,-0.40, 373.2,-0.71,
    373.8,-0.32, 374.3,0.03, 374.6,0.19, 374.9,-0.16, 375.4,-0.40, 375.7,-0.71, 376,-0.75, 376.5,-0.24,
    377.1,-0.05, 378.2,-0.01, 379.3,-0.05, 380.2,-0.32, 381,-0.09, 381.5,0.03, 382.4,-0.20, 383.2,-0.36,
    383.8,-0.48, 384.3,-0.48, 384.9,-0.59, 385.4,-0.67, 386,-0.63, 386.6,-0.79, 387.1,-0.95, 387.7,-0.98,
    388.2,-0.79, 388.8,-0.59, 389.3,-0.40, 389.9,-0.20, 390.4,-0.05, 391.6,-0.05, 392.7,-0.09, 393.8,0.11,
    394.3,0.15, 394.9,0.30, 395.5,0.11, 396,0.03, 397.1,-0.13, 398.2,-0.32, 398.8,-0.44, 399.3,-0.16,
    399.9,0.07, 400.4,0.19, 401,0.23, 401.3,-0.09, 401.5,0.23, 401.8,-0.40, 402.1,-0.63, 402.7,-0.91,
    403.2,-0.95, 403.8,-0.79, 404.3,-0.09, 404.9,-0.01, 406,0.07, 406.6,0.11, 407.1,0.15, 407.7,-0.01,
    408.2,-0.20, 408.8,-0.24, 409.9,-0.16, 411,0.11, 412.1,-0.09, 413.2,-0.20, 414.3,-0.16, 415.4,-0.01,
    416,0.30, 416.5,0.42, 417.1,0.46, 417.4,-0.01, 417.7,-0.16, 418.2,-0.05, 419.3,0.11, 420.4,0.11,
    421.6,-0.01, 422.7,0.23, 423.2,0.30, 423.8,0.07, 424.9,-0.09, 426,-0.13, 427.1,-0.24, 428.2,-0.09,
    429.3,-0.05, 429.8,-0.40, 430.4,-0.98, 430.9,-0.63, 431.5,-0.32, 432.1,-0.01, 433.2,-0.09, 434.3,-0.05,
    434.9,-0.13, 436,-0.01, 437.1,-0.20, 437.7,-0.28, 438.2,-0.09, 438.8,-0.01, 439.3,0.07, 440.4,0.15,
    441,0.03, 441.6,0.19, 442.1,0.11, 442.7,-0.32, 443.2,-0.40, 443.8,-0.55, 444.3,-0.71, 444.6,-0.83,
    445.2,-1.10, 445.4,-0.87, 445.7,-0.09, 446,-0.01, 447.1,-0.05, 448.2,0.11, 449.3,-0.01, 449.9,-0.16,
    450.4,-0.32, 451,-0.40, 451.6,-0.24, 452.1,-0.44, 452.7,-0.55, 453.2,-0.40, 453.8,-0.16, 454.3,-0.01,
    454.9,0.15, 455.4,0.30, 456,0.34, 456.6,0.15, 457.1,-0.24, 457.7,-0.48, 458.2,-0.09, 459.3,-0.01,
    461.6,-0.01, 462.7,0.07, 463.8,-0.09, 464.9,-0.16, 466,-0.01, 467.1,-0.32, 468.2,-0.16, 469.3,-0.32,
    469.9,-0.55, 470.4,-0.71, 471,-0.79, 471.6,-0.67, 472.1,-0.12, 472.7,-0.40, 473,-1.10, 473.2,-0.48,
    473.8,-0.01, 474.9,0.03, 476,0.07, 477.1,0.15, 477.7,-0.01, 478.2,-0.09, 479.3,-0.09, 480.4,-0.20,
    481.6,-0.32, 482.7,0.03, 483.2,-0.36, 483.8,-0.40, 484.9,-0.48, 486,-0.67, 487.1,-0.55, 487.7,-0.66,
    487.8,0.0, 488.5,-0.05, 489.5,0.03, 490.5,0.10, 491,0.27, 491.5,0.05, 492.5,-0.05, 493.5,-0.15,
    494,-0.25, 494.5,-0.60, 495,-0.75, 495.5,-0.80, 496,-0.90, 496.5,-0.70, 497,-0.30, 497.5,-0.10,
    498,-0.05, 499,0.0, 500,-0.02, 501,-0.05, 502,0.02, 503,-0.02, 504,0.05, 505,0.03, 506,0.0, 507,-0.05,
    507.6,-0.10]

# axis extents and tick settings
t_range = (370, 510)
x_tick_step, x_minor = 20, 4
y_ranges = {"a": (1.7, 29.55), "b": (1.4, 28.9), "c": (-5.0, 20.0), "d": (-4.0, 6.0), "e": (-2.0, 1.0)}
y_steps = {"a": (5, 5, 0), "b": (5, 5, 0), "c": (5, 5, 0), "d": (2, 4, 0), "e": (0.5, 5, 1)}
# tick labels sitting on a panel edge are nudged inward, as in the original; some are hidden
edge_top = {"a": None, "b": None, "c": 20.0, "d": 6.0, "e": 1.0}
edge_bottom = {"a": None, "b": None, "c": None, "d": None, "e": -2.0}
hidden_ticks = {"a": [], "b": [], "c": [-5.0], "d": [-4.0], "e": []}
y_subscripts = {"a": "xx", "b": "yy", "c": "xy", "d": "yx", "e": "yx"}
panel_tags = {"a": "(a)", "b": "(b)", "c": "(c)", "d": "(d)", "e": "(e)"}

BLACK, BLUE, ORANGE = "#000000", "#0000ff", "#ee8535"
TXT = "#222222"
TICKG = "#8a8a8a"
XTICK = "#444444"
SANS = "Liberation Sans"
SERIF = "Liberation Serif"

series = {
    "a": [(a_orange, ORANGE), (a_black, BLACK), (a_blue, BLUE)],
    "b": [(b_orange, ORANGE), (b_black, BLACK), (b_blue, BLUE)],
    "c": [(c_orange, ORANGE), (c_black, BLACK), (c_blue, BLUE)],
    "d": [(d_orange, ORANGE), (d_black, BLACK), (d_blue, BLUE)],
    "e": [(e_black, BLACK), (e_orange, ORANGE)],
}

# layout (pixels)
FRAME_W = 840
TITLE_W = 119          # strip holding the rotated y titles
PANEL_LEFT = 38        # room for tick labels
TOP_BORDER = 37
BOTTOM_BORDER = 30
XTITLE_H = 40
keys = ["a", "b", "c", "d", "e"]
frame_h = {"a": 127, "b": 128, "c": 127, "d": 128, "e": 128}
ylab_start = {"a": 31, "b": 38, "c": 38, "d": 41, "e": 40}       # from panel bottom, px
ylab_base = {"a": 106, "b": 106, "c": 105, "d": 105, "e": 104}   # baseline x in title strip
tag_pos = {"a": (813, 22), "b": (815, 25), "c": (813, 95), "d": (815, 29), "e": (825, 27)}

x_range = Range1d(*t_range)
x_ticker = SingleIntervalTicker(interval=x_tick_step, num_minor_ticks=x_minor)
blank = CustomJSTickFormatter(code="return '';")
NONE = 1e9


def split(flat):
    assert len(flat) % 2 == 0
    return list(flat[0::2]), list(flat[1::2])


def y_formatter(dec, hide, top, bot):
    return CustomJSTickFormatter(
        args=dict(dec=dec, hide=hide, top=NONE if top is None else top,
                  bot=NONE if bot is None else bot),
        code="""
        for (let i = 0; i < hide.length; i++) {
            if (Math.abs(tick - hide[i]) < 1e-9) { return ""; }
        }
        let s = tick.toFixed(dec);
        if (s.charAt(0) === "-") { s = "\\u2212" + s.substring(1); }
        if (Math.abs(tick - top) < 1e-9) { return "\\n" + s; }
        if (Math.abs(tick - bot) < 1e-9) { return s + "\\n"; }
        return s;
    """)


def lbl(p, x, y, text, size, font=SERIF, style="normal", angle=0.0, align="left",
        baseline="alphabetic", color=TXT):
    p.add_layout(Label(x=x, y=y, x_units="screen", y_units="screen", text=text,
                       angle=angle, text_align=align, text_baseline=baseline,
                       text_font=font, text_font_style=style, text_font_size=size,
                       text_color=color))


def blank_fig(w, h):
    f = figure(frame_width=w, frame_height=h, min_border=0,
               x_range=Range1d(0, 1), y_range=Range1d(0, 1),
               x_axis_location=None, y_axis_location=None,
               output_backend="svg", toolbar_location=None)
    f.grid.visible = False
    f.outline_line_color = None
    f.background_fill_color = "white"
    f.border_fill_color = "white"
    return f


def tick_only_axis(ticker, tick_in, minor_in, color):
    return LinearAxis(ticker=ticker, formatter=blank,
                      major_tick_in=tick_in, major_tick_out=0, minor_tick_in=minor_in, minor_tick_out=0,
                      axis_line_color=None, major_tick_line_color=color, minor_tick_line_color=color,
                      major_label_text_font_size="0px", major_label_text_color=None,
                      major_label_standoff=0)


panels = []
for i, k in enumerate(keys):
    first, last = (i == 0), (i == len(keys) - 1)
    h = frame_h[k]
    p = figure(x_range=x_range, y_range=Range1d(*y_ranges[k]),
               frame_width=FRAME_W, frame_height=h,
               min_border_left=PANEL_LEFT, min_border_right=37,
               min_border_top=TOP_BORDER if first else 0,
               min_border_bottom=BOTTOM_BORDER if last else 0,
               x_axis_location=None, y_axis_location=None,
               output_backend="svg", toolbar_location=None)
    p.grid.visible = False
    p.outline_line_color = "#000000"
    p.outline_line_width = 1
    p.background_fill_color = "white"
    p.border_fill_color = "white"

    step, nminor, dec = y_steps[k]
    yt = SingleIntervalTicker(interval=step, num_minor_ticks=nminor)
    left = LinearAxis(ticker=yt, formatter=y_formatter(dec, hidden_ticks[k], edge_top[k], edge_bottom[k]),
                      major_tick_in=10, major_tick_out=0, minor_tick_in=5, minor_tick_out=0,
                      axis_line_color=None, major_tick_line_color=TICKG, minor_tick_line_color=TICKG,
                      major_label_text_font=SANS, major_label_text_font_size="14px",
                      major_label_text_line_height=0.25,
                      major_label_text_color=TXT, major_label_standoff=9)
    if last:
        bottom = LinearAxis(ticker=x_ticker,
                            major_tick_in=4, major_tick_out=0, minor_tick_in=4, minor_tick_out=0,
                            axis_line_color=None, major_tick_line_color=XTICK, minor_tick_line_color=XTICK,
                            major_label_text_font=SANS, major_label_text_font_size="18px",
                            major_label_text_color=TXT, major_label_standoff=8)
    else:
        bottom = tick_only_axis(x_ticker, 4, 4, XTICK)
    p.add_layout(left, "left")
    p.add_layout(tick_only_axis(yt, 9, 5, TICKG), "right")
    p.add_layout(tick_only_axis(x_ticker, 4, 4, XTICK), "above")
    p.add_layout(bottom, "below")

    for flat, color in series[k]:
        t, v = split(flat)
        p.line(t, v, line_color=color, line_width=1.2)

    tx, ty = tag_pos[k]
    lbl(p, tx, ty, panel_tags[k], "27px", align="right", baseline="middle", color="#333333")
    panels.append(p)

# --- strip with the rotated y-axis titles (eta_ij / eta) ---
strip_h = TOP_BORDER + sum(frame_h.values()) + BOTTOM_BORDER
ytitles = blank_fig(TITLE_W, strip_h)
rot = math.pi / 2
bottom_abs = TOP_BORDER
for k in keys:
    bottom_abs += frame_h[k]
    s0 = strip_h - bottom_abs + ylab_start[k]
    b0 = ylab_base[k]
    lbl(ytitles, b0, s0, "\u03b7", "19px", style="italic", angle=rot)
    lbl(ytitles, b0 + 2, s0 + 12, y_subscripts[k], "12px", angle=rot)
    lbl(ytitles, b0, s0 + 26, "/", "19px", angle=rot)
    lbl(ytitles, b0, s0 + 36, "\u03b7", "19px", style="italic", angle=rot)
    if k == "a":
        lbl(ytitles, b0, s0 + 48, "\u03b9", "19px", style="italic", angle=rot)

# --- strip with the x-axis title: t u_rms k_f ---
total_w = TITLE_W + PANEL_LEFT + FRAME_W + 37
xtitle = blank_fig(total_w, XTITLE_H)
lbl(xtitle, 547, 24, "t", "16px", style="italic")
lbl(xtitle, 562, 24, "u", "16px", style="italic")
lbl(xtitle, 571, 20, "rms", "10px", style="bold")
lbl(xtitle, 587, 24, "k", "16px", style="italic")
lbl(xtitle, 595, 20, "f", "10px")

layout = column(row(ytitles, column(*panels)), xtitle)
open("out.html", "w", encoding="utf-8").write(file_html(layout, INLINE))
